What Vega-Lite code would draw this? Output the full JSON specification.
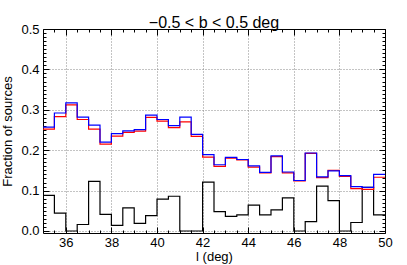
{
  "$schema": "https://vega.github.io/schema/vega-lite/v6.json",
  "width": 342,
  "height": 204,
  "autosize": "none",
  "padding": {"left": 43, "top": 29, "right": 22, "bottom": 32},
  "config": {
    "font": "Liberation Sans",
    "view": {"stroke": null},
    "axis": {"labelFont": "Liberation Sans", "titleFont": "Liberation Sans", "labelColor": "black", "titleColor": "black", "domainColor": "black", "tickColor": "black", "labelFontSize": 13, "titleFontSize": 13, "titleFontWeight": "normal"}
  },
  "title": {"text": "−0.5 < b < 0.5 deg", "fontSize": 16, "fontWeight": "normal", "font": "Liberation Sans", "color": "black", "baseline": "alphabetic", "offset": -21},
  "datasets": {
    "hist": [
      {"l": 35, "s": "blue", "frac": 0.257}, {"l": 35.5, "s": "blue", "frac": 0.292}, {"l": 36, "s": "blue", "frac": 0.317}, {"l": 36.5, "s": "blue", "frac": 0.282}, {"l": 37, "s": "blue", "frac": 0.262}, {"l": 37.5, "s": "blue", "frac": 0.220}, {"l": 38, "s": "blue", "frac": 0.241}, {"l": 38.5, "s": "blue", "frac": 0.248}, {"l": 39, "s": "blue", "frac": 0.251}, {"l": 39.5, "s": "blue", "frac": 0.287}, {"l": 40, "s": "blue", "frac": 0.276}, {"l": 40.5, "s": "blue", "frac": 0.261}, {"l": 41, "s": "blue", "frac": 0.282}, {"l": 41.5, "s": "blue", "frac": 0.239}, {"l": 42, "s": "blue", "frac": 0.189}, {"l": 42.5, "s": "blue", "frac": 0.164}, {"l": 43, "s": "blue", "frac": 0.182}, {"l": 43.5, "s": "blue", "frac": 0.177}, {"l": 44, "s": "blue", "frac": 0.161}, {"l": 44.5, "s": "blue", "frac": 0.145}, {"l": 45, "s": "blue", "frac": 0.186}, {"l": 45.5, "s": "blue", "frac": 0.146}, {"l": 46, "s": "blue", "frac": 0.125}, {"l": 46.5, "s": "blue", "frac": 0.193}, {"l": 47, "s": "blue", "frac": 0.134}, {"l": 47.5, "s": "blue", "frac": 0.149}, {"l": 48, "s": "blue", "frac": 0.137}, {"l": 48.5, "s": "blue", "frac": 0.110}, {"l": 49, "s": "blue", "frac": 0.108}, {"l": 49.5, "s": "blue", "frac": 0.140}, {"l": 50, "s": "blue", "frac": 0.140},
      {"l": 35, "s": "red", "frac": 0.252}, {"l": 35.5, "s": "red", "frac": 0.283}, {"l": 36, "s": "red", "frac": 0.312}, {"l": 36.5, "s": "red", "frac": 0.276}, {"l": 37, "s": "red", "frac": 0.252}, {"l": 37.5, "s": "red", "frac": 0.215}, {"l": 38, "s": "red", "frac": 0.235}, {"l": 38.5, "s": "red", "frac": 0.244}, {"l": 39, "s": "red", "frac": 0.247}, {"l": 39.5, "s": "red", "frac": 0.281}, {"l": 40, "s": "red", "frac": 0.272}, {"l": 40.5, "s": "red", "frac": 0.256}, {"l": 41, "s": "red", "frac": 0.270}, {"l": 41.5, "s": "red", "frac": 0.234}, {"l": 42, "s": "red", "frac": 0.183}, {"l": 42.5, "s": "red", "frac": 0.160}, {"l": 43, "s": "red", "frac": 0.180}, {"l": 43.5, "s": "red", "frac": 0.176}, {"l": 44, "s": "red", "frac": 0.158}, {"l": 44.5, "s": "red", "frac": 0.144}, {"l": 45, "s": "red", "frac": 0.184}, {"l": 45.5, "s": "red", "frac": 0.144}, {"l": 46, "s": "red", "frac": 0.124}, {"l": 46.5, "s": "red", "frac": 0.192}, {"l": 47, "s": "red", "frac": 0.132}, {"l": 47.5, "s": "red", "frac": 0.150}, {"l": 48, "s": "red", "frac": 0.135}, {"l": 48.5, "s": "red", "frac": 0.105}, {"l": 49, "s": "red", "frac": 0.103}, {"l": 49.5, "s": "red", "frac": 0.133}, {"l": 50, "s": "red", "frac": 0.133},
      {"l": 35, "s": "black", "frac": 0.088}, {"l": 35.5, "s": "black", "frac": 0.044}, {"l": 36, "s": "black", "frac": 0}, {"l": 36.5, "s": "black", "frac": 0.016}, {"l": 37, "s": "black", "frac": 0.123}, {"l": 37.5, "s": "black", "frac": 0.041}, {"l": 38, "s": "black", "frac": 0.014}, {"l": 38.5, "s": "black", "frac": 0.057}, {"l": 39, "s": "black", "frac": 0.019}, {"l": 39.5, "s": "black", "frac": 0.038}, {"l": 40, "s": "black", "frac": 0.079}, {"l": 40.5, "s": "black", "frac": 0.086}, {"l": 41, "s": "black", "frac": 0}, {"l": 41.5, "s": "black", "frac": 0}, {"l": 42, "s": "black", "frac": 0.121}, {"l": 42.5, "s": "black", "frac": 0.048}, {"l": 43, "s": "black", "frac": 0.036}, {"l": 43.5, "s": "black", "frac": 0.040}, {"l": 44, "s": "black", "frac": 0.064}, {"l": 44.5, "s": "black", "frac": 0.040}, {"l": 45, "s": "black", "frac": 0.052}, {"l": 45.5, "s": "black", "frac": 0.082}, {"l": 46, "s": "black", "frac": 0}, {"l": 46.5, "s": "black", "frac": 0.023}, {"l": 47, "s": "black", "frac": 0.111}, {"l": 47.5, "s": "black", "frac": 0.075}, {"l": 48, "s": "black", "frac": 0}, {"l": 48.5, "s": "black", "frac": 0.021}, {"l": 49, "s": "black", "frac": 0.108}, {"l": 49.5, "s": "black", "frac": 0.040}, {"l": 50, "s": "black", "frac": 0.040}
    ]
  },
  "data": {"name": "hist"},
  "resolve": {"axis": {"x": "independent", "y": "independent"}},
  "layer": [
    {
      "transform": [{"filter": "datum.s == 'black'"}],
      "mark": {"type": "line", "interpolate": "step-after", "color": "black", "strokeWidth": 1.2, "clip": true},
      "encoding": {
        "x": {"field": "l", "type": "quantitative", "scale": {"domain": [35, 50], "nice": false, "zero": false},
          "axis": {"orient": "bottom", "values": [36, 38, 40, 42, 44, 46, 48, 50], "format": "d", "tickSize": -6, "labelPadding": 9, "grid": true, "gridColor": "#888888", "gridDash": [1, 2], "gridWidth": 1, "title": "l (deg)", "titlePadding": 1, "labelFlush": false}},
        "y": {"field": "frac", "type": "quantitative", "scale": {"domain": [-0.005, 0.5], "nice": false, "zero": false},
          "axis": {"orient": "left", "values": [0, 0.1, 0.2, 0.3, 0.4, 0.5], "format": ".1f", "tickSize": -6, "labelPadding": 10, "grid": true, "gridColor": "#888888", "gridDash": [1, 2], "gridWidth": 1, "title": "Fraction of sources", "titlePadding": 6, "labelFlush": false}}
      }
    },
    {
      "transform": [{"filter": "datum.s == 'red'"}],
      "mark": {"type": "line", "interpolate": "step-after", "color": "#ff0000", "strokeWidth": 1.2, "clip": true},
      "encoding": {
        "x": {"field": "l", "type": "quantitative",
          "axis": {"orient": "bottom", "values": [35.5, 36.5, 37, 37.5, 38.5, 39, 39.5, 40.5, 41, 41.5, 42.5, 43, 43.5, 44.5, 45, 45.5, 46.5, 47, 47.5, 48.5, 49, 49.5], "tickSize": -3, "labels": false, "grid": false, "domain": false, "title": null}},
        "y": {"field": "frac", "type": "quantitative",
          "axis": {"orient": "left", "values": [0.01,0.02,0.03,0.04,0.05,0.06,0.07,0.08,0.09,0.11,0.12,0.13,0.14,0.15,0.16,0.17,0.18,0.19,0.21,0.22,0.23,0.24,0.25,0.26,0.27,0.28,0.29,0.31,0.32,0.33,0.34,0.35,0.36,0.37,0.38,0.39,0.41,0.42,0.43,0.44,0.45,0.46,0.47,0.48,0.49], "tickSize": -3, "labels": false, "grid": false, "domain": false, "title": null}}
      }
    },
    {
      "transform": [{"filter": "datum.s == 'blue'"}],
      "mark": {"type": "line", "interpolate": "step-after", "color": "#0000ff", "strokeWidth": 1.2, "clip": true},
      "encoding": {
        "x": {"field": "l", "type": "quantitative",
          "axis": {"orient": "top", "values": [36, 38, 40, 42, 44, 46, 48, 50], "tickSize": -6, "labels": false, "grid": false, "title": null}},
        "y": {"field": "frac", "type": "quantitative",
          "axis": {"orient": "right", "values": [0, 0.1, 0.2, 0.3, 0.4, 0.5], "tickSize": -6, "labels": false, "grid": false, "title": null}}
      }
    },
    {
      "transform": [{"filter": "datum.s == 'blue'"}],
      "mark": {"type": "point", "opacity": 0},
      "encoding": {
        "x": {"field": "l", "type": "quantitative",
          "axis": {"orient": "top", "values": [35.5, 36.5, 37, 37.5, 38.5, 39, 39.5, 40.5, 41, 41.5, 42.5, 43, 43.5, 44.5, 45, 45.5, 46.5, 47, 47.5, 48.5, 49, 49.5], "tickSize": -3, "labels": false, "grid": false, "domain": false, "title": null}},
        "y": {"field": "frac", "type": "quantitative",
          "axis": {"orient": "right", "values": [0.01,0.02,0.03,0.04,0.05,0.06,0.07,0.08,0.09,0.11,0.12,0.13,0.14,0.15,0.16,0.17,0.18,0.19,0.21,0.22,0.23,0.24,0.25,0.26,0.27,0.28,0.29,0.31,0.32,0.33,0.34,0.35,0.36,0.37,0.38,0.39,0.41,0.42,0.43,0.44,0.45,0.46,0.47,0.48,0.49], "tickSize": -3, "labels": false, "grid": false, "domain": false, "title": null}}
      }
    }
  ]
}
